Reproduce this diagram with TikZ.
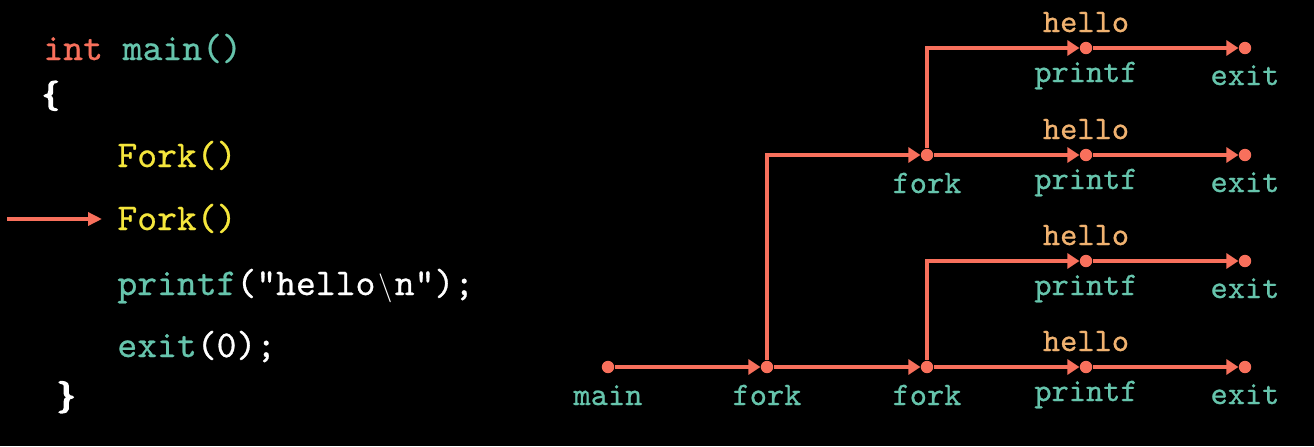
\documentclass[tikz,border=0pt]{standalone}
\usepackage{fontspec}
\usetikzlibrary{arrows.meta}
\newfontfamily\codefont{lmmono10-regular}[Extension=.otf, RawFeature={embolden=0.7}]
\newfontfamily\bracefont{lmroman10-bold}[Extension=.otf, RawFeature={embolden=6}]
\definecolor{coral}{RGB}{248,112,92}
\definecolor{tealc}{RGB}{102,196,172}
\definecolor{yellowc}{RGB}{245,230,60}
\definecolor{tanc}{RGB}{240,178,112}
\begin{document}
\begin{tikzpicture}[x=0.5pt,y=-0.5pt,
  code/.style={font=\fontsize{18.9}{18.9}\selectfont\codefont, anchor=base west, inner sep=0pt, text=white},
  brace/.style={anchor=base west, inner sep=0pt, text=white},
  lbl/.style={font=\fontsize{16.4}{16.4}\selectfont\codefont, anchor=base, inner sep=0pt, text=tealc},
  hellolbl/.style={lbl, text=tanc},
  dot/.style={circle, fill=coral, inner sep=0pt, minimum size=6.2pt},
  flow/.style={draw=coral, line width=1.9pt, -{Triangle[length=6pt,width=7.5pt]}},
]
\fill[black] (0,0) rectangle (1314,446);
\useasboundingbox (0,0) rectangle (1314,446);

% code
\node[code] (l1) at (43,60) {\textcolor{coral}{int} \textcolor{tealc}{main()}};
\node[brace, font=\fontsize{14.5}{14.5}\selectfont\bracefont] (l2) at (42,103) {\{};
\node[code, text=yellowc] (f1) at (117,167) {Fork()};
\node[code, text=yellowc] (f2) at (117,230) {Fork()};
\node[code] (l5) at (117,295) {\textcolor{tealc}{printf}("hello\kern1.5pt{\fontsize{13.5}{13.5}\selectfont$\backslash$}\kern1pt n");};
\node[code] (l6) at (117,357) {\textcolor{tealc}{exit}(0);};
\node[brace, font=\fontsize{15.5}{15.5}\selectfont\bracefont] (l7) at (57,405) {\}};

\coordinate (ca) at (7,219);
\draw[draw=coral, line width=1.7pt, -{Triangle[length=7pt,width=6.5pt]}, shorten >=7.5pt] (ca) -- (ca -| f2.west);

% graph dots
\node[dot] (m) at (608,367) {};
\node[dot] (k1) at (767,367) {};
\node[dot] (k2) at (927,367) {};
\node[dot] (k3) at (927,155) {};
\node[dot] (p1) at (1086,48) {};
\node[dot] (p2) at (1086,155) {};
\node[dot] (p3) at (1086,261) {};
\node[dot] (p4) at (1086,367) {};
\node[dot] (e1) at (1245,48) {};
\node[dot] (e2) at (1245,155) {};
\node[dot] (e3) at (1245,261) {};
\node[dot] (e4) at (1245,367) {};

% edges
\draw[flow] (m) -- (k1);
\draw[flow] (k1) -- (k2);
\draw[flow] (k2) -- (p4);
\draw[flow] (p4) -- (e4);
\draw[flow] (k1) |- (k3);
\draw[flow] (k3) -- (p2);
\draw[flow] (p2) -- (e2);
\draw[flow] (k3) |- (p1);
\draw[flow] (p1) -- (e1);
\draw[flow] (k2) |- (p3);
\draw[flow] (p3) -- (e3);

% labels
\node[lbl] (lm) at (608,405) {main};
\node[lbl] (lk1) at (767,405) {fork};
\node[lbl] (lk2) at (927,405) {fork};
\node[lbl] (lk3) at (927,193) {fork};
\node[lbl] (lp1) at (1086,82) {printf};
\node[lbl] (lp2) at (1086,189) {printf};
\node[lbl] (lp3) at (1086,295) {printf};
\node[lbl] (lp4) at (1086,401) {printf};
\node[lbl] (le1) at (1245,85) {exit};
\node[lbl] (le2) at (1245,192) {exit};
\node[lbl] (le3) at (1245,298) {exit};
\node[lbl] (le4) at (1245,404) {exit};
\node[hellolbl] (h1) at (1086,32) {hello};
\node[hellolbl] (h2) at (1086,139) {hello};
\node[hellolbl] (h3) at (1086,245) {hello};
\node[hellolbl] (h4) at (1086,351) {hello};
\end{tikzpicture}
\end{document}
